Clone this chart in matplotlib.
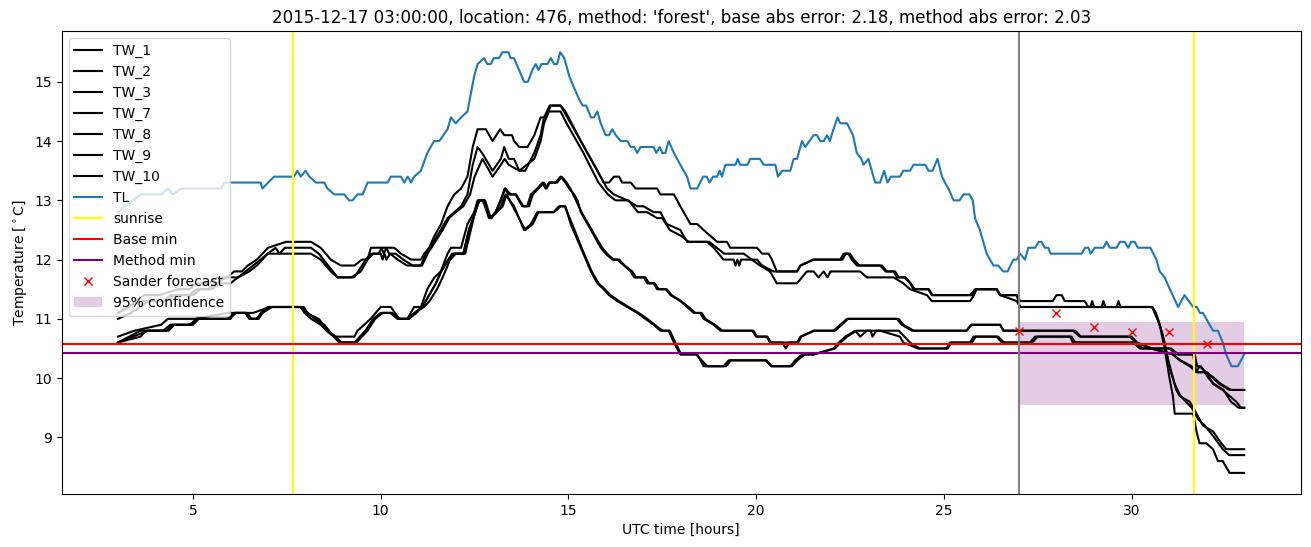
import numpy as np
import matplotlib
matplotlib.use("Agg")
import matplotlib.pyplot as plt

# --- data (hours UTC, degrees C) ---
TL = [(3.0, 12.8), (3.2, 12.9), (3.4, 13.0), (3.6, 13.1), (4.15, 13.1), (4.33, 13.2), (4.46, 13.1),
      (4.69, 13.2), (5.75, 13.2), (5.84, 13.3), (6.8, 13.3), (6.85, 13.2), (7.0, 13.3), (7.16, 13.4),
      (7.69, 13.4), (7.78, 13.5), (7.87, 13.4), (8.0, 13.5), (8.1, 13.4), (8.27, 13.3), (8.5, 13.3),
      (8.58, 13.2), (8.76, 13.1), (9.03, 13.1), (9.16, 13.0), (9.25, 13.0), (9.38, 13.1), (9.52, 13.1),
      (9.65, 13.3), (10.18, 13.3), (10.27, 13.4), (10.54, 13.4), (10.63, 13.3), (10.72, 13.4),
      (10.81, 13.3), (10.89, 13.4), (11.07, 13.5), (11.24, 13.8), (11.42, 14.0), (11.56, 14.0),
      (11.78, 14.2), (11.87, 14.4), (12.0, 14.3), (12.14, 14.4), (12.31, 14.5), (12.4, 14.8),
      (12.49, 15.1), (12.58, 15.3), (12.75, 15.4), (12.84, 15.3), (12.93, 15.3), (13.01, 15.4),
      (13.15, 15.4), (13.24, 15.5), (13.4, 15.5), (13.46, 15.4), (13.55, 15.4), (13.82, 15.0),
      (13.92, 15.0), (14.04, 15.2), (14.13, 15.3), (14.2, 15.2), (14.28, 15.3), (14.44, 15.3),
      (14.53, 15.4), (14.62, 15.3), (14.7, 15.3), (14.78, 15.5), (14.89, 15.4), (15.02, 15.1),
      (15.15, 14.9), (15.29, 14.7), (15.38, 14.6), (15.47, 14.6), (15.6, 14.4), (15.68, 14.4),
      (15.77, 14.5), (15.86, 14.3), (15.99, 14.1), (16.08, 14.1), (16.17, 14.2), (16.26, 14.1),
      (16.39, 14.0), (16.57, 14.0), (16.66, 13.9), (16.75, 13.9), (16.83, 13.8), (16.92, 13.9),
      (17.27, 13.9), (17.34, 13.8), (17.43, 13.9), (17.5, 13.8), (17.58, 13.8), (17.67, 14.0),
      (17.81, 13.8), (17.98, 13.6), (18.16, 13.4), (18.25, 13.2), (18.43, 13.2), (18.59, 13.4),
      (18.68, 13.4), (18.76, 13.3), (18.85, 13.4), (18.96, 13.4), (19.03, 13.5), (19.09, 13.4),
      (19.18, 13.6), (19.45, 13.6), (19.51, 13.7), (19.57, 13.6), (19.77, 13.6), (19.84, 13.7),
      (20.1, 13.7), (20.2, 13.6), (20.51, 13.6), (20.58, 13.4), (20.69, 13.5), (20.91, 13.5),
      (21.0, 13.7), (21.09, 13.7), (21.22, 14.0), (21.31, 13.9), (21.53, 14.1), (21.62, 14.1),
      (21.71, 14.0), (21.8, 14.0), (21.89, 14.1), (21.96, 14.0), (22.06, 14.2), (22.17, 14.4),
      (22.24, 14.3), (22.42, 14.3), (22.58, 14.1), (22.68, 13.8), (22.8, 13.7), (22.86, 13.6),
      (22.99, 13.7), (23.17, 13.3), (23.3, 13.3), (23.41, 13.5), (23.5, 13.3), (23.59, 13.4),
      (23.83, 13.4), (23.92, 13.5), (24.1, 13.5), (24.19, 13.6), (24.5, 13.6), (24.59, 13.5),
      (24.7, 13.5), (24.83, 13.7), (24.95, 13.4), (25.03, 13.3), (25.12, 13.2), (25.26, 13.0),
      (25.42, 13.0), (25.52, 13.1), (25.68, 13.1), (25.77, 13.0), (25.83, 12.7), (25.96, 12.5),
      (26.14, 12.1), (26.32, 11.9), (26.45, 11.9), (26.58, 11.8), (26.7, 11.8), (26.85, 12.0),
      (26.94, 12.0), (27.03, 12.1), (27.16, 12.0), (27.25, 12.2), (27.43, 12.2), (27.53, 12.3),
      (27.6, 12.3), (27.69, 12.2), (27.78, 12.2), (27.84, 12.1), (28.67, 12.1), (28.76, 12.2),
      (28.85, 12.2), (28.91, 12.1), (29.02, 12.2), (29.25, 12.2), (29.33, 12.3), (29.42, 12.2),
      (29.6, 12.2), (29.69, 12.3), (29.82, 12.3), (29.91, 12.2), (29.99, 12.3), (30.08, 12.3),
      (30.17, 12.2), (30.5, 12.2), (30.66, 12.0), (30.75, 11.8), (30.88, 11.7), (31.02, 11.5),
      (31.24, 11.2), (31.41, 11.4), (31.64, 11.2), (31.74, 11.2), (31.82, 11.1), (31.9, 11.1),
      (32.17, 10.8), (32.3, 10.8), (32.43, 10.6), (32.52, 10.4), (32.66, 10.2), (32.83, 10.2),
      (33.0, 10.4)]

TW_1 = [(3.0, 11.1), (3.27, 11.2), (3.5, 11.3), (3.7, 11.4), (4.1, 11.4), (4.6, 11.5), (4.9, 11.5),
        (5.1, 11.6), (5.4, 11.6), (5.65, 11.7), (5.9, 11.7), (6.1, 11.8), (6.3, 11.8), (6.46, 11.9),
        (6.7, 12.0), (6.85, 12.1), (7.0, 12.2), (7.48, 12.3), (8.14, 12.3), (8.4, 12.2), (8.67, 12.0),
        (8.94, 11.9), (9.3, 11.9), (9.5, 12.0), (9.65, 12.0), (9.74, 12.2), (10.36, 12.2),
        (10.54, 12.1), (10.81, 12.0), (11.07, 12.0), (11.16, 12.1), (11.29, 12.2), (11.43, 12.4),
        (11.61, 12.6), (11.78, 12.9), (11.96, 13.1), (12.14, 13.2), (12.31, 13.4), (12.45, 13.9),
        (12.58, 14.2), (12.8, 14.2), (12.98, 14.0), (13.18, 14.2), (13.29, 14.1), (13.5, 14.1),
        (13.55, 14.0), (13.69, 13.9), (13.91, 13.9), (14.09, 14.1), (14.26, 14.4), (14.4, 14.4),
        (14.53, 14.6), (14.79, 14.6), (14.97, 14.4), (15.33, 14.0), (15.77, 13.5), (15.94, 13.3),
        (16.08, 13.3), (16.21, 13.4), (16.35, 13.4), (16.43, 13.3), (16.66, 13.3), (16.79, 13.2),
        (17.36, 13.2), (17.45, 13.1), (17.81, 13.1), (17.98, 12.9), (18.16, 12.7), (18.25, 12.6),
        (18.43, 12.6), (18.6, 12.5), (18.78, 12.4), (18.96, 12.3), (19.22, 12.3), (19.31, 12.2),
        (20.02, 12.2), (20.16, 12.1), (20.33, 12.1), (20.42, 12.0), (20.55, 11.8), (21.09, 11.8),
        (21.18, 11.9), (21.53, 12.0), (22.24, 12.0), (22.33, 12.1), (22.46, 12.1), (22.55, 12.0),
        (22.68, 11.9), (23.35, 11.9), (23.48, 11.8), (23.66, 11.8), (23.75, 11.7), (23.95, 11.7),
        (24.1, 11.6), (24.19, 11.5), (24.59, 11.5), (24.68, 11.4), (25.7, 11.4), (25.83, 11.5),
        (26.41, 11.5), (26.5, 11.4), (26.94, 11.4), (27.03, 11.3), (27.9, 11.3), (28.0, 11.4),
        (28.14, 11.4), (28.22, 11.3), (28.75, 11.3), (28.85, 11.2), (30.55, 11.2), (30.7, 11.0),
        (30.84, 10.7), (30.94, 10.4), (31.06, 10.1), (31.19, 9.8), (31.28, 9.7), (31.55, 9.6),
        (31.73, 9.4), (31.9, 9.2), (32.17, 9.1), (32.39, 8.9), (32.52, 8.8), (33.0, 8.8)]

TW_2 = [(3.0, 11.1), (3.3, 11.2), (3.6, 11.3), (4.2, 11.3), (4.4, 11.4), (4.9, 11.4), (5.1, 11.5),
        (5.4, 11.5), (5.6, 11.6), (5.9, 11.7), (6.2, 11.7), (6.4, 11.8), (6.6, 11.9), (6.8, 12.0),
        (6.99, 12.1), (7.2, 12.2), (7.3, 12.1), (7.45, 12.2), (8.14, 12.2), (8.35, 12.1), (8.6, 11.9),
        (8.85, 11.7), (9.29, 11.7), (9.4, 11.8), (9.6, 12.0), (9.74, 12.1), (9.95, 12.1),
        (10.02, 12.2), (10.08, 12.1), (10.15, 12.2), (10.22, 12.1), (10.4, 12.1), (10.6, 12.0),
        (10.85, 11.9), (11.07, 11.9), (11.2, 12.1), (11.4, 12.3), (11.6, 12.5), (11.78, 12.7),
        (11.96, 12.8), (12.14, 12.9), (12.31, 13.1), (12.45, 13.6), (12.58, 13.9), (12.7, 13.8),
        (12.98, 13.5), (13.2, 13.7), (13.29, 13.9), (13.41, 13.7), (13.55, 13.7), (13.69, 13.5),
        (13.85, 13.5), (14.09, 13.8), (14.26, 14.1), (14.35, 14.4), (14.5, 14.6), (14.79, 14.6),
        (14.92, 14.5), (15.33, 14.0), (15.77, 13.5), (16.03, 13.2), (16.21, 13.1), (16.57, 13.0),
        (16.83, 12.9), (17.0, 12.9), (17.27, 12.8), (17.45, 12.8), (17.62, 12.6), (17.98, 12.5),
        (18.16, 12.3), (18.69, 12.3), (18.87, 12.2), (19.13, 12.0), (19.4, 12.0), (19.45, 11.9),
        (19.5, 12.0), (19.55, 11.9), (19.6, 12.0), (20.02, 12.0), (20.16, 11.9), (20.46, 11.8),
        (21.09, 11.8), (21.18, 11.9), (21.53, 12.0), (22.3, 12.0), (22.38, 12.1), (22.5, 12.1),
        (22.6, 12.0), (22.75, 11.9), (23.3, 11.9), (23.45, 11.8), (23.7, 11.8), (23.8, 11.7),
        (23.98, 11.7), (24.12, 11.6), (24.22, 11.5), (24.6, 11.5), (24.7, 11.4), (25.75, 11.4),
        (25.87, 11.5), (26.4, 11.5), (26.5, 11.4), (26.94, 11.4), (27.03, 11.2), (28.9, 11.2),
        (28.95, 11.3), (29.0, 11.2), (29.2, 11.2), (29.25, 11.3), (29.3, 11.2), (29.6, 11.2),
        (29.65, 11.3), (29.7, 11.2), (30.55, 11.2), (30.65, 11.1), (30.75, 10.9), (30.88, 10.6),
        (31.0, 10.2), (31.15, 9.9), (31.3, 9.7), (31.6, 9.5), (31.78, 9.3), (31.95, 9.2),
        (32.2, 9.0), (32.43, 8.8), (32.6, 8.7), (33.0, 8.7)]

TW_3 = [(3.0, 11.0), (3.35, 11.1), (3.6, 11.2), (3.8, 11.3), (4.3, 11.3), (4.5, 11.4), (5.0, 11.4),
        (5.2, 11.5), (5.5, 11.5), (5.7, 11.6), (6.0, 11.6), (6.2, 11.7), (6.5, 11.8), (6.7, 11.9),
        (6.85, 12.0), (6.99, 12.1), (8.14, 12.1), (8.4, 12.0), (8.67, 11.8), (8.85, 11.7),
        (9.22, 11.7), (9.47, 11.8), (9.65, 12.0), (9.8, 12.1), (10.0, 12.1), (10.05, 12.0),
        (10.1, 12.1), (10.15, 12.0), (10.25, 12.1), (10.45, 12.0), (10.7, 11.9), (11.1, 11.9),
        (11.25, 12.1), (11.45, 12.3), (11.65, 12.5), (11.82, 12.7), (12.0, 12.8), (12.2, 12.9),
        (12.38, 13.1), (12.5, 13.4), (12.71, 13.7), (12.98, 13.4), (13.2, 13.6), (13.3, 13.7),
        (13.41, 13.6), (13.69, 13.5), (14.09, 13.7), (14.26, 14.0), (14.35, 14.3), (14.48, 14.5),
        (14.79, 14.5), (14.95, 14.3), (15.4, 13.8), (15.8, 13.3), (16.05, 13.1), (16.25, 13.0),
        (16.6, 13.0), (16.85, 12.8), (17.1, 12.8), (17.36, 12.7), (17.5, 12.7), (17.7, 12.5),
        (18.0, 12.4), (18.2, 12.3), (18.75, 12.3), (18.95, 12.2), (19.15, 12.1), (19.67, 12.1),
        (20.1, 11.9), (20.37, 11.8), (20.55, 11.6), (21.09, 11.6), (21.35, 11.8), (21.53, 11.8),
        (21.66, 11.7), (21.8, 11.8), (21.9, 11.7), (21.98, 11.8), (22.77, 11.8), (22.95, 11.7),
        (23.66, 11.7), (23.92, 11.6), (24.1, 11.5), (24.55, 11.4), (24.68, 11.3), (25.7, 11.3),
        (25.8, 11.4), (25.87, 11.5), (26.41, 11.5), (26.5, 11.4), (26.94, 11.3), (27.03, 11.2),
        (30.55, 11.2), (30.75, 10.9), (30.88, 10.5), (31.01, 10.0), (31.1, 9.7), (31.15, 9.4),
        (31.64, 9.4), (31.73, 9.1), (31.81, 8.9), (31.99, 8.9), (32.17, 8.8), (32.3, 8.6),
        (32.43, 8.6), (32.61, 8.4), (33.0, 8.4)]

TW_7 = [(3.0, 10.7), (3.44, 10.8), (4.15, 10.9), (4.33, 11.0), (5.04, 11.0), (5.92, 11.1), (6.4, 11.1),
        (6.5, 11.0), (6.7, 11.0), (6.81, 11.1), (6.99, 11.2), (7.88, 11.2), (7.97, 11.1), (8.15, 11.0),
        (8.4, 10.9), (8.58, 10.8), (8.76, 10.7), (9.3, 10.7), (9.38, 10.8), (9.56, 10.9), (9.73, 11.0),
        (10.0, 11.2), (10.27, 11.2), (10.49, 11.0), (10.71, 11.0), (10.89, 11.2), (11.07, 11.2),
        (11.24, 11.5), (11.43, 11.7), (11.6, 11.8), (11.78, 12.1), (11.87, 12.2), (12.14, 12.2),
        (12.31, 12.6), (12.49, 12.8), (12.58, 13.0), (12.71, 13.0), (12.84, 12.8), (12.93, 12.7),
        (13.06, 12.8), (13.19, 13.0), (13.32, 13.2), (13.46, 13.1), (13.59, 13.1), (13.77, 12.9),
        (13.9, 12.9), (14.0, 13.1), (14.17, 13.2), (14.31, 13.3), (14.39, 13.2), (14.48, 13.3),
        (14.66, 13.3), (14.79, 13.4), (14.92, 13.3), (15.02, 13.2), (15.15, 13.1), (15.24, 13.0),
        (15.33, 12.8), (15.6, 12.5), (15.86, 12.2), (15.99, 12.1), (16.17, 12.0), (16.3, 12.0),
        (16.48, 11.9), (16.66, 11.8), (16.75, 11.7), (17.01, 11.7), (17.1, 11.6), (17.27, 11.6),
        (17.36, 11.5), (17.59, 11.5), (17.72, 11.4), (17.98, 11.3), (18.16, 11.2), (18.34, 11.1),
        (18.51, 11.1), (18.6, 11.0), (18.87, 10.9), (19.05, 10.8), (19.93, 10.8), (20.02, 10.7),
        (20.28, 10.7), (20.37, 10.6), (21.09, 10.6), (21.18, 10.7), (21.53, 10.8), (22.06, 10.8),
        (22.24, 10.9), (22.42, 11.0), (23.75, 11.0), (23.88, 10.9), (24.15, 10.8), (25.61, 10.8),
        (25.74, 10.9), (26.5, 10.9), (26.58, 10.8), (28.44, 10.8), (28.62, 10.7), (29.95, 10.7),
        (30.13, 10.6), (30.5, 10.5), (31.1, 10.4), (31.28, 10.3), (31.55, 10.2), (31.73, 10.1),
        (31.99, 10.1), (32.17, 10.0), (32.34, 9.9), (32.61, 9.8), (33.0, 9.8)]

TW_8 = [(3.0, 10.6), (3.6, 10.7), (3.75, 10.8), (4.3, 10.8), (4.45, 10.9), (4.95, 10.9), (5.1, 11.0),
        (6.0, 11.0), (6.1, 11.1), (6.45, 11.1), (6.55, 11.0), (6.75, 11.0), (6.85, 11.1), (7.05, 11.2),
        (7.95, 11.2), (8.05, 11.1), (8.25, 11.0), (8.5, 10.9), (8.75, 10.7), (8.9, 10.6), (9.35, 10.6),
        (9.45, 10.7), (9.6, 10.8), (9.8, 11.0), (10.05, 11.1), (10.3, 11.1), (10.45, 11.0),
        (10.75, 11.0), (10.95, 11.1), (11.1, 11.2), (11.29, 11.4), (11.47, 11.6), (11.61, 11.8),
        (11.8, 12.0), (11.9, 12.1), (12.2, 12.1), (12.35, 12.5), (12.52, 12.8), (12.62, 13.0),
        (12.75, 13.0), (12.88, 12.7), (12.95, 12.7), (13.06, 12.8), (13.2, 13.0), (13.3, 13.2),
        (13.41, 13.1), (13.6, 13.1), (13.8, 12.9), (13.95, 12.9), (14.05, 13.1), (14.2, 13.2),
        (14.35, 13.3), (14.42, 13.2), (14.5, 13.3), (14.7, 13.3), (14.82, 13.4), (14.95, 13.3),
        (15.05, 13.2), (15.2, 13.0), (15.35, 12.8), (15.62, 12.5), (15.9, 12.2), (16.03, 12.1),
        (16.2, 12.0), (16.35, 12.0), (16.5, 11.9), (16.7, 11.8), (16.8, 11.7), (17.05, 11.7),
        (17.15, 11.6), (17.3, 11.6), (17.4, 11.5), (17.62, 11.5), (17.75, 11.4), (18.0, 11.3),
        (18.2, 11.2), (18.38, 11.1), (18.55, 11.1), (18.65, 11.0), (18.9, 10.9), (19.1, 10.8),
        (19.9, 10.8), (20.0, 10.7), (20.3, 10.7), (20.4, 10.6), (20.7, 10.6), (20.79, 10.5),
        (20.88, 10.6), (21.12, 10.6), (21.2, 10.7), (21.55, 10.8), (22.1, 10.8), (22.28, 10.9),
        (22.45, 11.0), (23.8, 11.0), (23.92, 10.9), (24.2, 10.8), (25.6, 10.8), (25.72, 10.9),
        (26.5, 10.9), (26.6, 10.8), (28.5, 10.8), (28.65, 10.7), (30.0, 10.7), (30.15, 10.6),
        (30.55, 10.5), (31.1, 10.4), (31.3, 10.3), (31.6, 10.2), (31.75, 10.1), (32.0, 10.1),
        (32.2, 10.0), (32.38, 9.9), (32.65, 9.8), (33.0, 9.8)]

TW_9 = [(3.0, 10.6), (3.3, 10.7), (3.6, 10.8), (4.2, 10.8), (4.4, 10.9), (4.9, 10.9), (5.1, 11.0),
        (5.9, 11.0), (6.1, 11.1), (6.6, 11.1), (7.05, 11.2), (7.9, 11.2), (8.05, 11.1), (8.3, 11.0),
        (8.55, 10.8), (8.75, 10.7), (8.9, 10.6), (9.35, 10.6), (9.5, 10.7), (9.65, 10.8), (9.85, 11.0),
        (10.05, 11.1), (10.3, 11.1), (10.5, 11.0), (10.75, 11.0), (10.9, 11.1), (11.1, 11.2),
        (11.29, 11.4), (11.47, 11.6), (11.61, 11.8), (11.8, 12.0), (11.95, 12.1), (12.2, 12.1),
        (12.35, 12.5), (12.52, 12.8), (12.62, 13.0), (12.75, 13.0), (12.9, 12.7), (13.06, 12.8),
        (13.2, 12.9), (13.32, 13.1), (13.55, 12.9), (13.82, 12.5), (14.0, 12.6), (14.17, 12.8),
        (14.62, 12.8), (14.79, 12.9), (14.92, 12.9), (15.06, 12.6), (15.33, 12.2), (15.6, 11.8),
        (15.77, 11.6), (15.94, 11.5), (16.08, 11.4), (16.3, 11.3), (16.57, 11.2), (16.83, 11.1),
        (17.05, 11.0), (17.27, 10.9), (17.45, 10.8), (17.67, 10.8), (17.81, 10.6), (17.98, 10.4),
        (18.43, 10.4), (18.6, 10.2), (19.13, 10.2), (19.27, 10.3), (20.28, 10.3), (20.42, 10.2),
        (20.91, 10.2), (21.04, 10.3), (21.22, 10.4), (21.53, 10.4), (22.06, 10.5), (22.2, 10.6),
        (22.38, 10.7), (22.64, 10.8), (22.77, 10.7), (22.95, 10.8), (23.3, 10.8), (23.83, 10.7),
        (23.92, 10.6), (24.32, 10.5), (25.07, 10.5), (25.16, 10.6), (25.7, 10.6), (25.79, 10.7),
        (26.41, 10.7), (26.54, 10.6), (27.29, 10.6), (27.43, 10.7), (28.36, 10.7), (28.44, 10.6),
        (30.04, 10.6), (30.22, 10.5), (31.0, 10.5), (31.2, 10.4), (31.64, 10.4), (31.72, 10.1),
        (31.81, 10.2), (31.99, 10.1), (32.17, 9.9), (32.43, 9.8), (32.61, 9.7), (32.79, 9.6),
        (32.92, 9.5), (33.0, 9.5)]

TW_10 = [(3.0, 10.6), (3.4, 10.7), (3.8, 10.8), (4.35, 10.8), (4.5, 10.9), (5.0, 10.9), (5.15, 11.0),
         (5.95, 11.0), (6.15, 11.1), (6.4, 11.1), (6.5, 11.0), (6.7, 11.0), (6.85, 11.1), (7.1, 11.2),
         (7.85, 11.2), (8.0, 11.1), (8.35, 11.0), (8.6, 10.8), (8.8, 10.7), (8.95, 10.6), (9.3, 10.6),
         (9.45, 10.7), (9.6, 10.8), (9.8, 11.0), (10.0, 11.1), (10.25, 11.1), (10.45, 11.0),
         (10.7, 11.0), (10.9, 11.1), (11.15, 11.2), (11.3, 11.3), (11.5, 11.5), (11.65, 11.7),
         (11.85, 12.0), (12.0, 12.1), (12.25, 12.1), (12.4, 12.5), (12.55, 12.9), (12.65, 13.0),
         (12.78, 13.0), (12.93, 12.7), (13.1, 12.8), (13.25, 12.9), (13.35, 13.1), (13.6, 12.8),
         (13.85, 12.5), (14.05, 12.6), (14.2, 12.8), (14.6, 12.8), (14.75, 12.9), (14.9, 12.9),
         (15.1, 12.6), (15.35, 12.2), (15.62, 11.8), (15.8, 11.6), (15.97, 11.5), (16.12, 11.4),
         (16.35, 11.3), (16.6, 11.2), (16.87, 11.1), (17.1, 11.0), (17.3, 10.9), (17.5, 10.8),
         (17.7, 10.8), (17.85, 10.6), (18.0, 10.4), (18.4, 10.4), (18.55, 10.3), (18.7, 10.2),
         (19.2, 10.2), (19.33, 10.3), (20.25, 10.3), (20.4, 10.2), (20.95, 10.2), (21.1, 10.3),
         (21.3, 10.4), (21.55, 10.4), (22.1, 10.5), (22.25, 10.6), (22.42, 10.7), (22.68, 10.8),
         (23.05, 10.8), (23.1, 10.7), (23.2, 10.8), (23.8, 10.8), (23.95, 10.7), (24.1, 10.6),
         (24.35, 10.5), (25.1, 10.5), (25.2, 10.6), (25.75, 10.6), (25.85, 10.7), (26.45, 10.7),
         (26.6, 10.6), (27.35, 10.6), (27.5, 10.7), (28.4, 10.7), (28.5, 10.6), (30.1, 10.6),
         (30.3, 10.5), (31.05, 10.5), (31.25, 10.4), (31.68, 10.4), (31.75, 10.2), (31.85, 10.2),
         (32.05, 10.0), (32.2, 9.9), (32.45, 9.8), (32.65, 9.6), (32.85, 9.5), (33.0, 9.5)]

tw_series = {"TW_1": TW_1, "TW_2": TW_2, "TW_3": TW_3, "TW_7": TW_7,
             "TW_8": TW_8, "TW_9": TW_9, "TW_10": TW_10}

sunrise_hours = [7.66, 31.67]
forecast_start = 27.0
base_min = 10.58
method_min = 10.43
forecast_hours = [27, 28, 29, 30, 31, 32]
forecast_temps = [10.80, 11.10, 10.86, 10.77, 10.78, 10.58]
conf_hours = [27.0, 33.0]
conf_low = 9.55
conf_high = 10.94

title = ("2015-12-17 03:00:00, location: 476, method: 'forest', "
         "base abs error: 2.18, method abs error: 2.03")

fig, ax = plt.subplots(figsize=(13.11, 5.47), dpi=100)
fig.subplots_adjust(left=0.047, right=0.992, top=0.943, bottom=0.097)

for name, pts in tw_series.items():
    arr = np.array(pts)
    ax.plot(arr[:, 0], arr[:, 1], color='black', label=name)

tl = np.array(TL)
ax.plot(tl[:, 0], tl[:, 1], color='tab:blue', label='TL')

# sunrise markers
ax.axvline(sunrise_hours[0], color='yellow', label='sunrise')
ax.axvline(sunrise_hours[1], color='yellow')

ax.axhline(base_min, color='red', label='Base min')
ax.axhline(method_min, color='purple', label='Method min')
ax.axvline(forecast_start, color='gray')

ax.plot(forecast_hours, forecast_temps, 'rx', label='Sander forecast')
ax.fill_between(conf_hours, conf_low, conf_high, color='purple', alpha=0.2,
                linewidth=0, label='95% confidence')

ax.set_title(title)
ax.set_xlabel('UTC time [hours]')
ax.set_ylabel(r'Temperature [$^\circ$C]')
ax.legend(loc='upper left')

plt.savefig('out.png', dpi=100)
